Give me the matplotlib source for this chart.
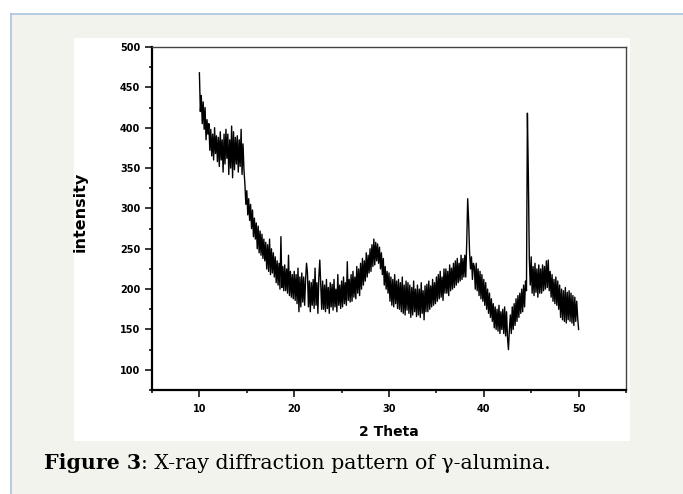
import numpy as np
import matplotlib
matplotlib.use("Agg")
import matplotlib.pyplot as plt
from matplotlib.patches import Rectangle
from matplotlib.lines import Line2D
from matplotlib.ticker import MultipleLocator

# 2-theta from 10.0 to 50.0 in 0.1 deg steps, intensity
two_theta_start = 10.0
two_theta_step = 0.1

i_10 = [468, 420, 440, 405, 432, 398, 425, 385, 410, 392]
i_11 = [405, 372, 398, 365, 392, 360, 400, 368, 390, 358]
i_12 = [388, 352, 395, 360, 385, 345, 392, 355, 398, 362]
i_13 = [392, 342, 385, 350, 402, 338, 395, 348, 388, 355]
i_14 = [390, 345, 385, 352, 398, 342, 380, 348, 330, 305]
i_15 = [322, 292, 312, 285, 305, 275, 298, 265, 288, 262]
i_16 = [282, 250, 278, 245, 272, 242, 268, 238, 262, 235]
i_17 = [258, 225, 255, 222, 262, 218, 250, 220, 245, 215]
i_18 = [240, 208, 235, 205, 232, 200, 265, 202, 228, 198]
i_19 = [230, 198, 225, 195, 242, 192, 222, 190, 218, 188]
i_20 = [222, 186, 218, 182, 226, 172, 215, 178, 220, 184]
i_21 = [215, 180, 212, 232, 220, 178, 210, 172, 208, 180]
i_22 = [212, 176, 226, 180, 208, 170, 215, 236, 205, 175]
i_23 = [210, 175, 205, 172, 212, 176, 202, 170, 208, 178]
i_24 = [206, 174, 212, 178, 200, 172, 218, 180, 205, 176]
i_25 = [210, 178, 215, 182, 208, 180, 234, 186, 212, 184]
i_26 = [218, 185, 222, 190, 215, 188, 228, 195, 225, 192]
i_27 = [232, 200, 238, 205, 235, 210, 245, 215, 242, 220]
i_28 = [250, 222, 255, 228, 262, 230, 258, 235, 256, 232]
i_29 = [252, 225, 245, 218, 238, 205, 228, 200, 222, 195]
i_30 = [220, 185, 215, 180, 212, 178, 218, 182, 210, 176]
i_31 = [212, 175, 208, 172, 215, 170, 205, 168, 210, 174]
i_32 = [208, 170, 205, 165, 202, 168, 210, 172, 200, 166]
i_33 = [205, 168, 200, 165, 208, 170, 198, 162, 204, 172]
i_34 = [206, 172, 210, 175, 204, 178, 212, 180, 208, 182]
i_35 = [215, 185, 218, 188, 222, 190, 215, 186, 225, 195]
i_36 = [225, 195, 222, 192, 230, 198, 226, 200, 232, 202]
i_37 = [235, 205, 238, 208, 232, 210, 242, 212, 238, 215]
i_38 = [242, 215, 258, 312, 285, 245, 225, 240, 212, 232]
i_39 = [228, 200, 232, 198, 225, 192, 222, 188, 218, 185]
i_40 = [212, 180, 208, 175, 200, 170, 195, 165, 188, 160]
i_41 = [182, 152, 178, 150, 175, 148, 180, 145, 172, 150]
i_42 = [175, 145, 178, 142, 172, 140, 125, 150, 168, 145]
i_43 = [178, 150, 182, 155, 188, 160, 192, 165, 195, 170]
i_44 = [200, 172, 205, 178, 210, 198, 418, 340, 238, 205]
i_45 = [240, 195, 228, 192, 232, 196, 225, 190, 230, 195]
i_46 = [225, 195, 230, 198, 228, 200, 235, 202, 236, 198]
i_47 = [222, 190, 218, 185, 212, 182, 215, 180, 210, 175]
i_48 = [205, 165, 200, 162, 198, 160, 202, 158, 196, 162]
i_49 = [198, 160, 195, 158, 192, 155, 190, 160, 185, 165]
i_50 = [150]

intensity = np.array(
    i_10 + i_11 + i_12 + i_13 + i_14 + i_15 + i_16 + i_17 + i_18 + i_19
    + i_20 + i_21 + i_22 + i_23 + i_24 + i_25 + i_26 + i_27 + i_28 + i_29
    + i_30 + i_31 + i_32 + i_33 + i_34 + i_35 + i_36 + i_37 + i_38 + i_39
    + i_40 + i_41 + i_42 + i_43 + i_44 + i_45 + i_46 + i_47 + i_48 + i_49
    + i_50, dtype=float)
two_theta = two_theta_start + two_theta_step * np.arange(len(intensity))

W, H = 683, 494
fig = plt.figure(figsize=(W / 100, H / 100), dpi=100, facecolor='white')

def fx(px):
    return px / W

def fy(py):
    return 1 - py / H

# page background box with light blue border on left/top
fig.patches.append(Rectangle((fx(11), 0), 1, fy(14), transform=fig.transFigure,
                             facecolor='#f3f3ee', edgecolor='none', zorder=-3))
fig.lines.append(Line2D([fx(11), fx(11)], [0, fy(14)], transform=fig.transFigure,
                        color='#a9c3e0', lw=1.2, zorder=-2))
fig.lines.append(Line2D([fx(11), 1], [fy(14), fy(14)], transform=fig.transFigure,
                        color='#a9c3e0', lw=1.2, zorder=-2))
# white panel behind the chart
fig.patches.append(Rectangle((fx(74), fy(441)), fx(630) - fx(74), fy(38) - fy(441),
                             transform=fig.transFigure, facecolor='white',
                             edgecolor='none', zorder=-1))

ax = fig.add_axes([fx(152), fy(390), fx(626) - fx(152), fy(47) - fy(390)])
ax.set_zorder(1)
ax.set_facecolor('white')
ax.plot(two_theta, intensity, color='black', lw=1.0)

ax.set_xlim(5, 55)
ax.set_ylim(75, 500)
ax.xaxis.set_major_locator(MultipleLocator(10))
ax.xaxis.set_minor_locator(MultipleLocator(5))
ax.yaxis.set_major_locator(MultipleLocator(50))
ax.yaxis.set_minor_locator(MultipleLocator(25))
ax.set_yticks(np.arange(100, 501, 50))

ax.tick_params(which='both', direction='out', top=False, right=False, width=1.1,
               color='black')
ax.tick_params(which='major', length=5)
ax.tick_params(which='minor', length=2.5)
ax.tick_params(axis='x', pad=5, labelsize=7)
ax.tick_params(axis='y', pad=3.5, labelsize=7)
for lab in ax.get_xticklabels() + ax.get_yticklabels():
    lab.set_fontweight('bold')

for s in ['left', 'bottom']:
    ax.spines[s].set_linewidth(1.6)
    ax.spines[s].set_color('black')
for s in ['top', 'right']:
    ax.spines[s].set_linewidth(1.0)
    ax.spines[s].set_color('#444444')

fig.text(fx(80), fy(212), 'intensity', rotation=90, ha='center', va='center',
         fontsize=11.5, fontweight='bold')
fig.text(fx(389), fy(432), '2 Theta', ha='center', va='center',
         fontsize=10, fontweight='bold')

# caption: bold "Figure 3" followed by regular text
cap_y = fy(469)
t1 = fig.text(fx(44), cap_y, 'Figure 3', ha='left', va='baseline',
              fontsize=14.8, fontweight='bold', family='DejaVu Serif')
fig.canvas.draw()
bb = t1.get_window_extent(renderer=fig.canvas.get_renderer())
fig.text(bb.x1 / W, cap_y, ': X-ray diffraction pattern of \u03b3-alumina.',
         ha='left', va='baseline', fontsize=14.8, family='DejaVu Serif')

fig.savefig('out.png', dpi=100, facecolor=fig.get_facecolor())
